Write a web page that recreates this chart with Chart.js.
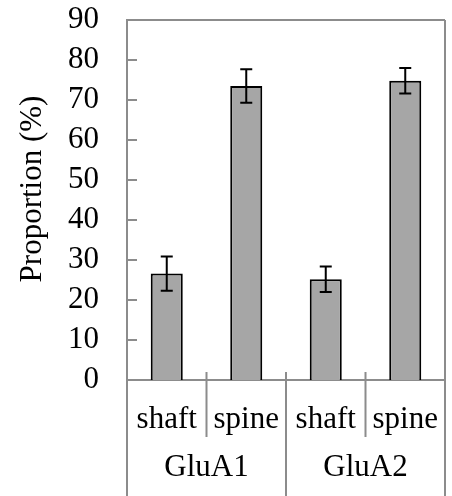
<!DOCTYPE html>
<html>
<head>
<meta charset="utf-8">
<script src="https://cdn.jsdelivr.net/npm/chart.js"></script>
<style>
  html, body { margin: 0; padding: 0; background: #fff; }
  #wrap { width: 452px; height: 496px; }
</style>
</head>
<body>
<div id="wrap"><canvas id="chart"></canvas></div>
<script>
const subLabels = ["shaft", "spine", "shaft", "spine"];
const groupLabels = ["GluA1", "GluA2"];
const proportions = [26.6, 73.5, 25.2, 74.8];
const errors = [4.3, 4.2, 3.2, 3.2];
const yMin = 0;
const yMax = 90;
const yStep = 10;
const yTitle = "Proportion (%)";

const axisGray = "#8c8c8c";
const serif = "'Liberation Serif', 'Times New Roman', serif";
const fontSize = 31;

// error bars, inward ticks, plot box, label dividers and the y title
const extras = {
    id: "extras",
    afterDatasetsDraw(chart) {
        const ctx = chart.ctx;
        const y = chart.scales.y;
        ctx.save();
        ctx.strokeStyle = "#000";
        ctx.lineWidth = 2;
        chart.getDatasetMeta(0).data.forEach((bar, i) => {
            const hi = y.getPixelForValue(proportions[i] + errors[i]);
            const lo = y.getPixelForValue(proportions[i] - errors[i]);
            ctx.beginPath();
            ctx.moveTo(bar.x, hi);
            ctx.lineTo(bar.x, lo);
            ctx.moveTo(bar.x - 6, hi);
            ctx.lineTo(bar.x + 6, hi);
            ctx.moveTo(bar.x - 6, lo);
            ctx.lineTo(bar.x + 6, lo);
            ctx.stroke();
        });
        ctx.restore();
    },
    afterDraw(chart) {
        const ctx = chart.ctx;
        const a = chart.chartArea;
        const x = chart.scales.x;
        const y = chart.scales.y;
        const x2 = chart.scales.x2;
        ctx.save();
        ctx.strokeStyle = axisGray;
        ctx.lineWidth = 2;
        ctx.beginPath();
        // inward ticks
        y.ticks.forEach(t => {
            const py = y.getPixelForValue(t.value);
            ctx.moveTo(a.left, py);
            ctx.lineTo(a.left + 10, py);
        });
        // top and right of plot box, left edge of label table
        ctx.moveTo(a.left, a.top);
        ctx.lineTo(a.right, a.top);
        ctx.moveTo(a.right, a.top);
        ctx.lineTo(a.right, chart.height);
        ctx.moveTo(a.left, a.bottom);
        ctx.lineTo(a.left, chart.height);
        // dividers between shaft / spine and between groups
        for (let i = 0; i < subLabels.length - 1; i++) {
            const px = (x.getPixelForValue(i) + x.getPixelForValue(i + 1)) / 2;
            const isGroupEdge = (i + 1) % 2 === 0;
            ctx.moveTo(px, a.bottom - 8);
            ctx.lineTo(px, isGroupEdge ? chart.height : x2.top);
        }
        ctx.stroke();

        // y title, a little above the middle of the plot like the original
        ctx.fillStyle = "#000";
        ctx.font = fontSize + "px " + serif;
        ctx.textAlign = "center";
        ctx.textBaseline = "middle";
        ctx.translate(y.left + 33, (a.top + a.bottom) / 2 - 11);
        ctx.rotate(-Math.PI / 2);
        ctx.fillText(yTitle, 0, 0);
        ctx.restore();
    }
};

function noPad(scale) {
    scale.paddingTop = 0;
    scale.paddingBottom = 0;
    scale.paddingLeft = 0;
    scale.paddingRight = 0;
}

new Chart(document.getElementById("chart"), {
    type: "bar",
    data: {
        labels: subLabels,
        datasets: [{
            data: proportions,
            backgroundColor: "#a6a6a6",
            borderColor: "#000",
            borderWidth: 2,
            barPercentage: 0.403,
            categoryPercentage: 1
        }]
    },
    options: {
        responsive: true,
        maintainAspectRatio: false,
        animation: false,
        layout: { padding: { top: 20, right: 7, left: 0, bottom: 0 } },
        plugins: {
            legend: { display: false },
            tooltip: { enabled: false }
        },
        scales: {
            y: {
                min: yMin,
                max: yMax,
                ticks: {
                    stepSize: yStep,
                    autoSkip: false,
                    padding: 28,
                    color: "#000",
                    font: { family: serif, size: fontSize }
                },
                grid: { display: false, drawTicks: false },
                border: { display: true, color: axisGray, width: 2 },
                afterFit(scale) { scale.width = 127; noPad(scale); }
            },
            x: {
                position: "bottom",
                ticks: {
                    padding: 21,
                    autoSkip: false,
                    color: "#000",
                    font: { family: serif, size: fontSize },
                    maxRotation: 0
                },
                grid: { display: false, drawTicks: false },
                border: { display: true, color: axisGray, width: 2 },
                afterFit(scale) { scale.height = 57; noPad(scale); }
            },
            x2: {
                type: "category",
                position: "bottom",
                labels: groupLabels,
                ticks: {
                    padding: 12,
                    autoSkip: false,
                    color: "#000",
                    font: { family: serif, size: fontSize },
                    maxRotation: 0
                },
                grid: { display: false, drawTicks: false },
                border: { display: false },
                afterFit(scale) { scale.height = 59; noPad(scale); }
            }
        }
    },
    plugins: [extras]
});
</script>
</body>
</html>
